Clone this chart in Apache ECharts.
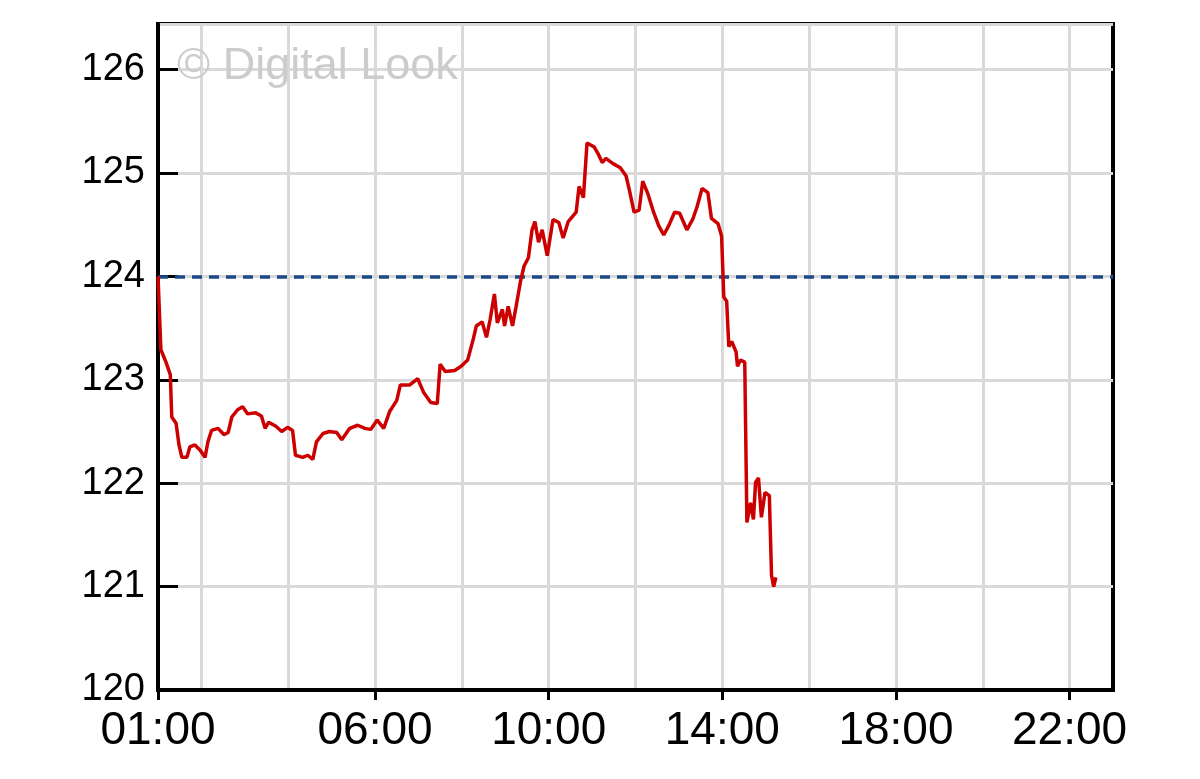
<!DOCTYPE html>
<html>
<head>
<meta charset="utf-8">
<script src="https://cdn.jsdelivr.net/npm/echarts@6/dist/echarts.min.js"></script>
<style>
html,body{margin:0;padding:0;background:#fff;}
#chart{width:1200px;height:779px;}
</style>
</head>
<body>
<div id="chart"></div>
<script>
// Intraday price data (time of day, price)
const times = [
'01:00','01:04','01:11','01:17','01:19','01:25','01:29','01:33','01:40','01:44',
'01:51','01:58','02:05','02:09','02:14','02:23','02:31','02:37','02:42','02:50',
'02:57','03:04','03:15','03:23','03:28','03:33','03:43','03:51','03:59','04:06',
'04:10','04:20','04:27','04:34','04:39','04:48','04:57','05:07','05:14','05:25',
'05:36','05:46','05:54','06:03','06:12','06:20','06:30','06:35','06:48','06:59',
'07:07','07:17','07:26','07:30','07:37','07:50','07:59','08:08','08:16','08:20',
'08:28','08:34','08:39','08:45','08:49','08:56','08:59','09:04','09:10','09:15',
'09:21','09:26','09:32','09:37','09:41','09:46','09:51','09:58','10:06','10:14',
'10:20','10:27','10:38','10:42','10:48','10:53','11:03','11:08','11:14','11:19',
'11:29','11:39','11:47','11:52','11:58','12:05','12:10','12:17','12:25','12:32',
'12:39','12:46','12:54','13:01','13:11','13:19','13:25','13:32','13:40','13:45',
'13:54','13:59','14:02','14:06','14:09','14:13','14:19','14:21','14:25','14:31',
'14:34','14:39','14:43','14:46','14:50','14:54','14:59','15:05','15:08','15:11',
'15:14'
];
const prices = [
124.00,123.29,123.17,123.05,122.64,122.58,122.37,122.25,122.25,122.35,
122.37,122.32,122.25,122.40,122.51,122.53,122.47,122.49,122.64,122.71,
122.74,122.67,122.68,122.65,122.53,122.59,122.55,122.50,122.54,122.51,
122.27,122.25,122.27,122.23,122.40,122.48,122.50,122.49,122.42,122.53,
122.56,122.53,122.52,122.61,122.53,122.69,122.80,122.95,122.95,123.01,
122.88,122.78,122.77,123.15,123.08,123.09,123.13,123.19,123.40,123.52,
123.56,123.41,123.58,123.83,123.55,123.68,123.52,123.71,123.52,123.71,
123.95,124.10,124.18,124.45,124.53,124.33,124.45,124.20,124.55,124.52,
124.37,124.53,124.62,124.87,124.76,125.29,125.25,125.19,125.10,125.14,
125.09,125.05,124.97,124.82,124.62,124.64,124.92,124.80,124.62,124.49,
124.40,124.49,124.62,124.61,124.45,124.55,124.67,124.85,124.81,124.56,
124.51,124.39,123.80,123.76,123.32,123.37,123.27,123.13,123.19,123.17,
121.62,121.81,121.65,122.01,122.05,121.67,121.91,121.88,121.11,121.00,
121.09
];
const previousClose = 124.00;
const hourCategories = ['01:00','02:00','03:00','04:00','05:00','06:00','07:00','08:00','09:00','10:00','11:00','12:00','13:00','14:00','15:00','16:00','17:00','18:00','19:00','20:00','21:00','22:00','23:00'];
const xTickLabels = ['01:00','06:00','10:00','14:00','18:00','22:00'];
const gridHours = ['02:00','04:00','06:00','08:00','10:00','12:00','14:00','16:00','18:00','20:00','22:00'];
const yTicks = [120,121,122,123,124,125,126];
const watermark = '\u00A9 Digital Look';

function toMinutes(t){ const p=t.split(':'); return (+p[0])*60 + (+p[1]); }
const seriesData = times.map((t,i)=>[toMinutes(t), prices[i]]);

const chart = echarts.init(document.getElementById('chart'), null, {renderer:'canvas'});
const FONT = '"Liberation Sans", Arial, sans-serif';
chart.setOption({
  animation:false,
  backgroundColor:'#ffffff',
  grid:{left:158, right:87, top:24, bottom:89, show:true, borderColor:'#000', borderWidth:4, backgroundColor:'transparent'},
  graphic:[{
    type:'text', left:177, top:44, z:1, silent:true,
    style:{text:watermark, fill:'#cccccc', font:'45px ' + FONT}
  }],
  xAxis:[{
    type:'category', data:hourCategories, boundaryGap:false, position:'bottom',
    axisLine:{show:true, lineStyle:{color:'#000', width:4}},
    axisTick:{show:true, interval:(i,v)=>xTickLabels.includes(v), length:10, lineStyle:{color:'#000', width:3}},
    axisLabel:{interval:(i,v)=>xTickLabels.includes(v), fontSize:46, color:'#000', margin:18, fontFamily:FONT},
    splitLine:{show:true, interval:(i,v)=>gridHours.includes(v), lineStyle:{color:'#d9d9d9', width:3}}
  },{
    type:'value', min:toMinutes(hourCategories[0]), max:toMinutes(hourCategories[hourCategories.length-1]), show:false
  }],
  yAxis:{
    type:'value', min:yTicks[0], max:126.44, interval:1,
    axisLine:{show:true, lineStyle:{color:'#000', width:4}},
    axisTick:{show:true, inside:true, length:20, lineStyle:{color:'#000', width:3}},
    axisLabel:{fontSize:38, color:'#000', margin:13, fontFamily:FONT, showMaxLabel:false,
      formatter:v=>yTicks.includes(v)?String(v):''},
    splitLine:{show:true, lineStyle:{color:'#d9d9d9', width:3}}
  },
  series:[{
    type:'line', xAxisIndex:1, data:seriesData, showSymbol:false, symbol:'none',
    lineStyle:{color:'#cc0000', width:3.5}, z:5,
    markLine:{silent:true, symbol:['none','none'], label:{show:false},
      lineStyle:{color:'#1b4a84', width:3.5, type:[10,7]},
      data:[{yAxis:previousClose}], z:4}
  }]
});
</script>
</body>
</html>
